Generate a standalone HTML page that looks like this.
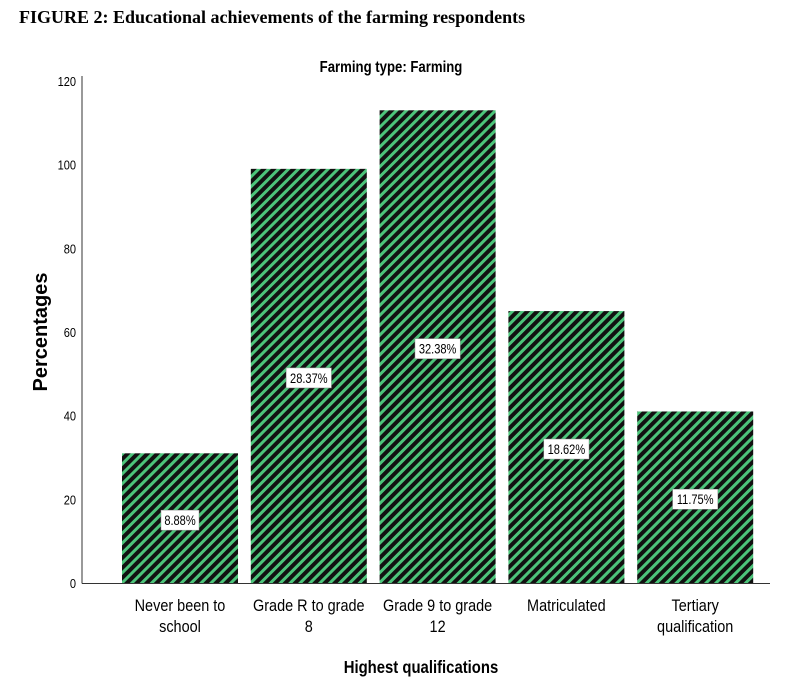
<!DOCTYPE html>
<html><head><meta charset="utf-8"><style>
body{margin:0;background:#fff;width:785px;height:692px;overflow:hidden}
svg text{font-family:"Liberation Sans",sans-serif}
</style></head><body>
<svg id="c" width="785" height="692">
<defs><pattern id="hatch" patternUnits="userSpaceOnUse" width="7" height="7" patternTransform="rotate(45)">
<rect width="7" height="7" fill="#111"/><rect width="3" height="7" fill="#4cc47a"/></pattern></defs>
<text x="19" y="23" font-weight="bold" font-size="18" style="font-family:'Liberation Serif',serif">FIGURE 2: Educational achievements of the farming respondents</text>
<text x="391" y="72" text-anchor="middle" font-size="15.5" font-weight="bold" transform="translate(391 0) scale(0.85 1) translate(-391 0)">Farming type: Farming</text>
<text x="0" y="0" text-anchor="middle" font-size="20" font-weight="bold" transform="translate(47 332) rotate(-90)">Percentages</text>
<text x="421" y="673" text-anchor="middle" font-size="17.5" font-weight="bold" transform="translate(421 0) scale(0.85 1) translate(-421 0)">Highest qualifications</text>
<g id="g"></g>
</svg>
<script>
const categories=[["Never been to","school"],["Grade R to grade","8"],["Grade 9 to grade","12"],["Matriculated",""],["Tertiary","qualification"]];
const values=[31,99,113,65,41];
const labels=["8.88%","28.37%","32.38%","18.62%","11.75%"];
const ticks=[0,20,40,60,80,100,120];
const NS="http://www.w3.org/2000/svg",g=document.getElementById('g');
const y=v=>583-v*(583-81)/120;
const x0=82,bw=116;
const xb=i=>122+i*128.8;
function el(t,a,txt){const e=document.createElementNS(NS,t);for(const k in a)e.setAttribute(k,a[k]);if(txt!==undefined)e.textContent=txt;g.appendChild(e);return e;}
let a=el('line',{x1:x0,y1:76,x2:x0,y2:583.5,stroke:'#333','stroke-width':1});


a=el('line',{x1:x0,y1:583.5,x2:770,y2:583.5,stroke:'#333','stroke-width':1});


ticks.forEach(t=>{const e=el('text',{x:76,y:y(t)+5,'text-anchor':'end','font-size':13,transform:`translate(76 0) scale(0.85 1) translate(-76 0)`},t);

});
values.forEach((v,i)=>{const bx=xb(i);
const r=el('rect',{x:bx,y:y(v),width:bw,height:y(0)-y(v),fill:'url(#hatch)'});


const cx=bx+bw/2,cy=(y(v)+y(0))/2+2,w=labels[i].length*7.2+2;
const b=el('rect',{x:cx-w/2,y:cy-10,width:w,height:20,fill:'#fff',stroke:'#999','stroke-width':0.5});


const t=el('text',{x:cx,y:cy+5,'text-anchor':'middle','font-size':13.5,transform:`translate(${cx} 0) scale(0.82 1) translate(${-cx} 0)`},labels[i]);


categories[i].forEach((ln,j)=>{if(!ln)return;const c=el('text',{x:cx,y:611+j*21,'text-anchor':'middle','font-size':17,transform:`translate(${cx} 0) scale(0.85 1) translate(${-cx} 0)`},ln);

});
});
</script>
</body></html>
